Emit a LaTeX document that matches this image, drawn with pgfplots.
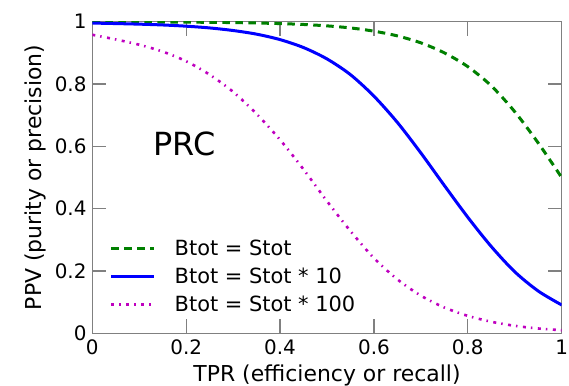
\documentclass[border=0pt]{standalone}
\usepackage{fontspec}
\setmainfont{DejaVu Sans}
\usepackage{pgfplots}
\pgfplotsset{compat=1.18}
\definecolor{mplgreen}{rgb}{0,0.5,0}
\definecolor{mplblue}{rgb}{0,0,1}
\definecolor{mplmag}{rgb}{0.75,0,0.75}
\definecolor{framegray}{gray}{0.5}

\pgfplotstableread{
t      M       B       G
0.00   0.958   0.9956  0.9996
0.05   0.943   0.9940  0.9994
0.10   0.926   0.9921  0.9992
0.15   0.904   0.9895  0.9989
0.20   0.873   0.9856  0.9985
0.25   0.830   0.9800  0.9980
0.30   0.775   0.9717  0.9971
0.35   0.704   0.9600  0.9958
0.40   0.621   0.9425  0.9939
0.45   0.526   0.9170  0.9911
0.50   0.424   0.8805  0.9866
0.55   0.328   0.8300  0.9800
0.60   0.2415  0.7610  0.9696
0.65   0.173   0.6766  0.9544
0.70   0.1208  0.5787  0.9321
0.75   0.0828  0.4744  0.9000
0.80   0.056   0.3723  0.8557
0.85   0.0371  0.2784  0.7941
0.90   0.024   0.1974  0.7110
0.95   0.01544 0.1356  0.6107
1.00   0.0099  0.0909  0.5000
}\prc

\begin{document}
\begin{tikzpicture}
\begin{axis}[
  at={(0,0)}, anchor=south west,
  scale only axis, width=469.4bp, height=311.6bp,
  xmin=0, xmax=1, ymin=0, ymax=1,
  xtick={0,0.2,0.4,0.6,0.8,1},
  ytick={0,0.2,0.4,0.6,0.8,1},
  xticklabels={0,0.2,0.4,0.6,0.8,1},
  yticklabels={0,0.2,0.4,0.6,0.8,1},
  /pgf/number format/assume math mode=true,
  tick align=inside, major tick length=14bp,
  tick style={framegray, line width=1.2bp},
  axis line style={framegray, line width=1.3bp},
  ticklabel style={font=\fontsize{20}{24}\selectfont, text=black},
  xticklabel style={anchor=north, inner sep=0pt, yshift=-6.7bp},
  yticklabel style={anchor=east, inner sep=0pt, xshift=-5.6bp},
  every axis x label/.style={at={(axis description cs:0.5,-0.1553)}, anchor=base, inner sep=0pt, font=\fontsize{22}{26}\selectfont},
  every axis y label/.style={at={(axis description cs:-0.1072,0.5)}, rotate=90, anchor=base, inner sep=0pt, font=\fontsize{22}{26}\selectfont},
  xlabel={TPR (efficiency or recall)},
  ylabel={PPV (purity or precision)},
  legend cell align=left,
  legend style={draw=none, fill=none, at={(rel axis cs:0.0377,0.3004)}, anchor=north west,
    inner sep=0pt, outer sep=0pt, row sep=11bp, column sep=18.7bp,
    font=\fontsize{21}{25}\selectfont, nodes={inner sep=0pt}},
  legend image code/.code={\draw[#1] (0bp,0bp) -- (43bp,0bp);},
]
\addplot[mplgreen, line width=3bp, dash pattern=on 7.5bp off 5.5bp, smooth] table[x=t, y=G] {\prc};
\addlegendentry{Btot = Stot}
\addplot[mplblue, line width=3bp, smooth] table[x=t, y=B] {\prc};
\addlegendentry{Btot = Stot * 10}
\addplot[mplmag, line width=2.6bp, dash pattern=on 3bp off 5bp on 1.5bp off 5.5bp, smooth] table[x=t, y=M] {\prc};
\addlegendentry{Btot = Stot * 100}
\node[anchor=base west, inner sep=0pt, font=\fontsize{32}{38}\selectfont] at (axis cs:0.130,0.572) {PRC};
\end{axis}
\pgfresetboundingbox
\useasboundingbox (-92.3bp,-52.7bp) rectangle (476.7bp,333.3bp);
\end{tikzpicture}
\end{document}
